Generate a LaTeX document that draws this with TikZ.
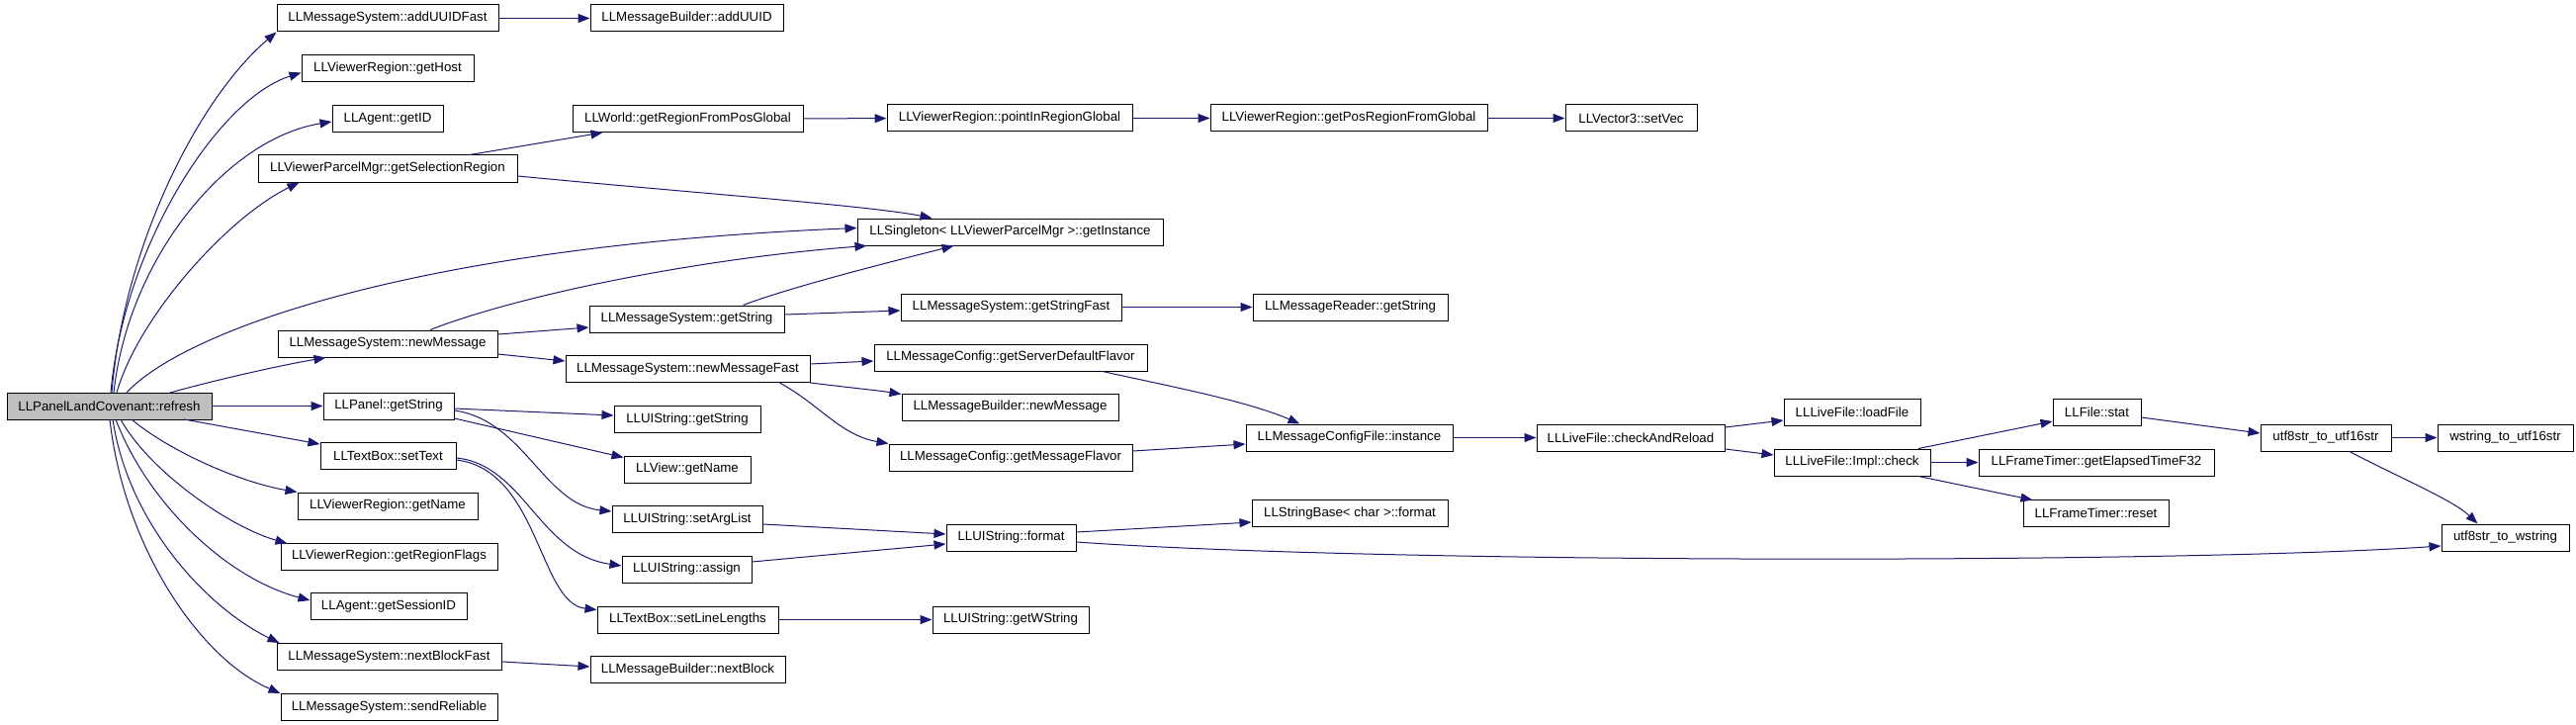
\documentclass[tikz,border=0pt]{standalone}
\usepackage{fontspec}
\setmainfont{Liberation Sans}
\usetikzlibrary{arrows.meta,calc}
\definecolor{navy}{HTML}{191970}
\definecolor{rootgray}{HTML}{BFBFBF}
\begin{document}
\begin{tikzpicture}[x=1pt,y=-1pt,
  box/.style={draw=black, line width=1pt, inner sep=0pt, minimum height=27pt, fill=white, font=\fontsize{13.3}{15}\selectfont},
  cg/.style={draw=navy, line width=1pt, -{Triangle[length=12pt,width=9pt]}}]
\useasboundingbox (0,0) rectangle (2605,733);
% nodes
\node[box, fill=rootgray, minimum width=207pt] (refresh) at (110.5,410.5) {LLPanelLandCovenant::refresh};
\node[box, minimum width=224pt] (addUUIDFast) at (392,18.5) {LLMessageSystem::addUUIDFast};
\node[box, minimum width=195pt] (addUUID) at (694.5,18.5) {LLMessageBuilder::addUUID};
\node[box, minimum width=174pt] (getHost) at (392,69.5) {LLViewerRegion::getHost};
\node[box, minimum width=112pt] (getID) at (392,120) {LLAgent::getID};
\node[box, minimum width=233pt] (regionFromPos) at (695.5,120) {LLWorld::getRegionFromPosGlobal};
\node[box, minimum width=248pt] (pointIn) at (1021,119.5) {LLViewerRegion::pointInRegionGlobal};
\node[box, minimum width=280pt] (posRegion) at (1364,119.5) {LLViewerRegion::getPosRegionFromGlobal};
\node[box, minimum width=133pt] (setVec) at (1649.5,119.5) {LLVector3::setVec};
\node[box, minimum width=262pt] (selRegion) at (392,170.5) {LLViewerParcelMgr::getSelectionRegion};
\node[box, minimum width=309pt] (singleton) at (1021.5,234.5) {LLSingleton< LLViewerParcelMgr >::getInstance};
\node[box, minimum width=197pt] (msGetString) at (694.5,322.5) {LLMessageSystem::getString};
\node[box, minimum width=222pt] (newMessage) at (392,347.5) {LLMessageSystem::newMessage};
\node[box, minimum width=223pt] (getStringFast) at (1022.5,310.5) {LLMessageSystem::getStringFast};
\node[box, minimum width=197pt] (readerGetString) at (1365.5,310.5) {LLMessageReader::getString};
\node[box, minimum width=247pt] (newMessageFast) at (695.5,373) {LLMessageSystem::newMessageFast};
\node[box, minimum width=276pt] (serverFlavor) at (1022,361.5) {LLMessageConfig::getServerDefaultFlavor};
\node[box, minimum width=219pt] (builderNewMessage) at (1021.5,411.5) {LLMessageBuilder::newMessage};
\node[box, minimum width=246pt] (msgFlavor) at (1022,462.5) {LLMessageConfig::getMessageFlavor};
\node[box, minimum width=209pt] (cfgInstance) at (1364.5,442.5) {LLMessageConfigFile::instance};
\node[box, minimum width=190pt] (checkAndReload) at (1649,442.5) {LLLiveFile::checkAndReload};
\node[box, minimum width=138pt] (loadFile) at (1873,417) {LLLiveFile::loadFile};
\node[box, minimum width=158pt] (implCheck) at (1873,467.5) {LLLiveFile::Impl::check};
\node[box, minimum width=89pt] (fileStat) at (2120.5,417) {LLFile::stat};
\node[box, minimum width=238pt] (elapsed) at (2120,467.5) {LLFrameTimer::getElapsedTimeF32};
\node[box, minimum width=147pt] (reset) at (2119.5,518.5) {LLFrameTimer::reset};
\node[box, minimum width=132pt] (u8to16) at (2352,442.5) {utf8str\_to\_utf16str};
\node[box, minimum width=137pt] (wsto16) at (2533.5,442.5) {wstring\_to\_utf16str};
\node[box, minimum width=129pt] (u8tows) at (2533.5,543.5) {utf8str\_to\_wstring};
\node[box, minimum width=132pt] (panelGetString) at (393,410.5) {LLPanel::getString};
\node[box, minimum width=148pt] (uiGetString) at (695,424) {LLUIString::getString};
\node[box, minimum width=137pt] (setText) at (392.5,461) {LLTextBox::setText};
\node[box, minimum width=128pt] (viewGetName) at (695,474.5) {LLView::getName};
\node[box, minimum width=182pt] (vrGetName) at (392,511.5) {LLViewerRegion::getName};
\node[box, minimum width=152pt] (setArgList) at (695,525) {LLUIString::setArgList};
\node[box, minimum width=219pt] (regionFlags) at (393.5,562.5) {LLViewerRegion::getRegionFlags};
\node[box, minimum width=131pt] (assign) at (694.5,575.5) {LLUIString::assign};
\node[box, minimum width=198pt] (sbFormat) at (1365,519) {LLStringBase< char >::format};
\node[box, minimum width=131pt] (uiFormat) at (1022.5,543.5) {LLUIString::format};
\node[box, minimum width=158pt] (sessionID) at (393,613) {LLAgent::getSessionID};
\node[box, minimum width=183pt] (setLineLengths) at (695.5,626.5) {LLTextBox::setLineLengths};
\node[box, minimum width=158pt] (getWString) at (1022,626.5) {LLUIString::getWString};
\node[box, minimum width=227pt] (nextBlockFast) at (393.5,664) {LLMessageSystem::nextBlockFast};
\node[box, minimum width=197pt] (nextBlock) at (695.5,677) {LLMessageBuilder::nextBlock};
\node[box, minimum width=219pt] (sendReliable) at (393.5,715) {LLMessageSystem::sendReliable};
% edges from refresh
\draw[cg] ($(refresh)+(2.5,-13.5)$) .. controls (125,250) and (200,100) .. (addUUIDFast.south west);
\draw[cg] ($(refresh)+(1.5,-13.5)$) .. controls (125,250) and (220,100) .. ($(getHost.west)+(0,4)$);
\draw[cg] ($(refresh)+(4.5,-13.5)$) .. controls (130,260) and (230,140) .. ($(getID.west)+(0,3)$);
\draw[cg] ($(refresh)+(7.5,-13.5)$) .. controls (140,320) and (230,220) .. ($(selRegion.south west)+(42,0)$);
\draw[cg] ($(refresh)+(17.5,-13.5)$) .. controls (180,340) and (400,250) .. ($(singleton.west)+(0,-4)$);
\draw[cg] ($(refresh)+(61.5,-13.5)$) .. controls (215,385) and (280,370) .. ($(newMessage.south west)+(49,0)$);
\draw[cg] (refresh) -- (panelGetString);
\draw[cg] ($(refresh)+(75.5,13.5)$) -- ($(setText.north west)+(0,2)$);
\draw[cg] ($(refresh)+(22.5,13.5)$) .. controls (170,455) and (240,487) .. (vrGetName.north west);
\draw[cg] ($(refresh)+(11.5,13.5)$) .. controls (150,475) and (230,532) .. ($(regionFlags.north west)+(7,1)$);
\draw[cg] ($(refresh)+(6.5,13.5)$) .. controls (150,510) and (230,585) .. ($(sessionID.north west)+(0,8)$);
\draw[cg] ($(refresh)+(3.5,13.5)$) .. controls (130,530) and (210,615) .. ($(nextBlockFast.north west)+(3,0)$);
\draw[cg] ($(refresh)+(0.5,13.5)$) .. controls (125,550) and (200,665) .. (sendReliable.north west);
% other edges
\draw[cg] (addUUIDFast) -- (addUUID);
\draw[cg] ($(selRegion.north)+(83,0)$) -- ($(regionFromPos.south west)+(31,0)$);
\draw[cg] ($(selRegion.east)+(0,7.5)$) .. controls (700,195) and (880,208) .. ($(singleton.north west)+(76,0)$);
\draw[cg] (regionFromPos) -- (pointIn);
\draw[cg] (pointIn) -- (posRegion);
\draw[cg] (posRegion) -- (setVec);
\draw[cg] ($(newMessage.north)+(43,0)$) .. controls (520,300) and (700,262) .. ($(singleton.south west)+(10,0)$);
\draw[cg] ($(newMessage.east)+(0,-9.5)$) -- ($(msGetString.west)+(0,8.5)$);
\draw[cg] ($(newMessage.east)+(0,10.5)$) -- ($(newMessageFast.west)+(0,-8)$);
\draw[cg] ($(msGetString.north)+(57,0)$) .. controls (800,290) and (900,265) .. ($(singleton.south west)+(98,0)$);
\draw[cg] ($(msGetString.east)+(0,-4.5)$) -- ($(getStringFast.west)+(0,3.5)$);
\draw[cg] (getStringFast) -- (readerGetString);
\draw[cg] ($(newMessageFast.east)+(0,-5)$) -- ($(serverFlavor.west)+(0,3.5)$);
\draw[cg] ($(newMessageFast.south east)+(0,0)$) .. controls (860,392) and (890,395) .. ($(builderNewMessage.north west)+(0,1)$);
\draw[cg] ($(newMessageFast.south east)+(-31,0)$) .. controls (830,410) and (850,440) .. (msgFlavor.north west);
\draw[cg] ($(serverFlavor.south)+(93,0)$) .. controls (1180,390) and (1260,405) .. ($(cfgInstance.north west)+(55,0)$);
\draw[cg] ($(msgFlavor.east)+(0,-6.5)$) -- ($(cfgInstance.west)+(0,6.5)$);
\draw[cg] (cfgInstance) -- (checkAndReload);
\draw[cg] ($(checkAndReload.east)+(0,-10.5)$) -- ($(loadFile.west)+(0,8)$);
\draw[cg] ($(checkAndReload.east)+(0,11.5)$) -- ($(implCheck.west)+(0,-7.5)$);
\draw[cg] ($(implCheck.north)+(67,0)$) -- ($(fileStat.west)+(0,9)$);
\draw[cg] (implCheck) -- (elapsed);
\draw[cg] ($(implCheck.south)+(67,0)$) -- ($(reset.north west)+(10,1)$);
\draw[cg] ($(fileStat.east)+(0,5)$) -- ($(u8to16.west)+(0,-4.5)$);
\draw[cg] (u8to16) -- (wsto16);
\draw[cg] ($(u8to16.south)+(24,0)$) .. controls (2420,480) and (2480,505) .. ($(u8tows.north west)+(37,0)$);
\draw[cg] ($(uiFormat.east)+(0,-5.5)$) -- ($(sbFormat.west)+(0,9)$);
\draw[cg] ($(uiFormat.east)+(0,4.5)$) .. controls (1400,570) and (2200,570) .. ($(u8tows.west)+(0,8.5)$);
\draw[cg] ($(panelGetString.east)+(0,2.5)$) -- ($(uiGetString.west)+(0,-4)$);
\draw[cg] ($(panelGetString.east)+(0,12.5)$) -- ($(viewGetName.north west)+(0,2)$);
\draw[cg] ($(panelGetString.east)+(0,4.5)$) .. controls (530,425) and (550,510) .. ($(setArgList.west)+(0,-8)$);
\draw[cg] ($(setText.east)+(0,2)$) .. controls (530,470) and (545,560) .. ($(assign.west)+(0,-3.5)$);
\draw[cg] ($(setText.east)+(0,4)$) .. controls (545,475) and (545,610) .. ($(setLineLengths.north west)+(0,4)$);
\draw[cg] ($(setArgList.east)+(0,5)$) -- ($(uiFormat.west)+(0,-3.5)$);
\draw[cg] ($(assign.east)+(0,-7.5)$) -- ($(uiFormat.west)+(0,6.5)$);
\draw[cg] (setLineLengths) -- (getWString);
\draw[cg] ($(nextBlockFast.east)+(0,5)$) -- ($(nextBlock.west)+(0,-3)$);
\end{tikzpicture}
\end{document}
